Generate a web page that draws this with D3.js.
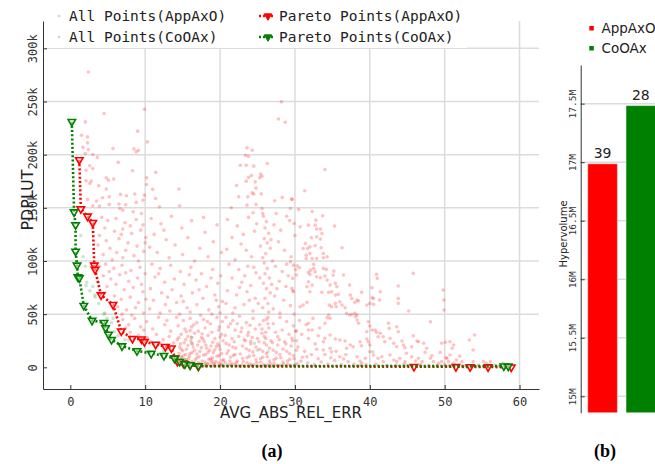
<!DOCTYPE html>
<html>
<head>
<meta charset="utf-8">
<script src="https://cdn.jsdelivr.net/npm/d3@7"></script>
<style>
  body { margin: 0; background: #fff; }
  svg { display: block; }
</style>
</head>
<body>
<svg></svg>
<script>
// AVG_ABS_REL_ERR vs PDPLUT (k)
const xTicks = [0, 10, 20, 30, 40, 50, 60];
const yTicks = [0, 50, 100, 150, 200, 250, 300];
const yTickLabels = ["0", "50k", "100k", "150k", "200k", "250k", "300k"];

const appAllPoints = [
  [2.4,277.8],[4.5,238.7],[2.0,230.8],[9.9,242.7],[9.0,222.1],[10.3,212.0],[1.5,218.3],[2.3,216.7],[2.3,211.1],
  [1.7,206.8],[2.4,204.9],[5.7,205.8],[8.5,205.4],[9.1,204.2],[8.8,202.6],[3.0,200.2],[2.0,201.1],[3.6,197.4],
  [6.4,192.7],[2.6,189.5],[3.0,187.0],[2.1,185.4],[8.3,184.8],[11.4,183.3],[4.8,178.2],[5.1,176.0],[5.8,177.0],
  [2.8,175.1],[2.1,175.4],[2.6,172.9],[10.2,178.2],[3.8,170.7],[4.8,167.6],[10.2,172.0],[11.0,167.3],[14.5,167.6],
  [6.7,162.6],[7.5,161.3],[8.6,162.9],[9.9,161.9],[4.3,159.4],[5.2,160.3],[2.3,157.9],[3.5,156.3],[5.2,153.2],
  [6.5,153.5],[7.4,152.8],[8.8,155.1],[9.7,157.2],[11.4,158.8],[3.0,151.9],[3.9,151.6],[11.9,150.9],[14.6,151.9],
  [6.6,149.4],[7.0,147.8],[8.4,146.2],[9.5,144.7],
  [28.2,249.6],[27.8,233.6],[28.7,230.5],[23.6,206.4],[24.3,204.2],[23.4,199.5],[23.8,198.3],[26.3,191.7],
  [22.7,190.1],[23.5,190.1],[24.5,189.2],[25.4,181.7],[25.6,179.8],[24.2,180.4],[23.8,178.6],[25.3,178.2],
  [22.2,171.0],[23.5,175.1],[24.7,174.4],[24.8,168.5],[24.3,164.1],[24.5,162.9],[25.5,163.1],[28.3,159.8],
  [29.6,158.2],[22.5,160.3],[23.7,160.3],[24.8,153.2],[23.6,152.5],[27.3,156.6],[21.5,150.0],[25.6,149.4],
  [27.5,144.7],[24.4,145.3],[25.7,144.7],
  [34.0,186.1],[31.3,166.0],[29.6,157.9],[29.4,149.4],[30.5,148.5],[32.3,146.6],
  [29.9,135.3],[32.8,138.4],[32.7,133.7],[32.9,130.0],[33.7,142.5],[33.4,130.0],[33.6,125.9],[35.3,132.8],
  [31.8,133.7],[30.7,132.1],[32.2,121.8],[32.9,122.7],[33.4,120.6],[31.4,116.5],[31.7,111.8],[32.0,113.3],
  [32.7,114.3],[31.1,111.8],[31.5,105.5],[33.5,112.4],[36.3,112.4],[32.0,107.1],[32.3,102.4],[31.5,102.4],
  [33.8,107.1],[34.3,103.9],[33.8,103.0],[32.9,102.4],[32.5,96.8],[29.8,96.1],[29.4,99.2],[30.3,95.5],
  [30.6,93.6],[32.1,91.4],[32.5,93.0],[32.7,89.8],[32.0,87.4],[31.8,89.3],[33.8,93.0],[34.2,92.1],
  [35.2,90.5],[35.1,86.7],[30.2,86.7],[32.9,85.1],[33.4,84.2],[34.0,85.8],[34.3,82.0],[36.5,86.7],
  [31.8,80.4],[32.3,77.3],[31.6,75.7],[32.0,71.0],[29.7,83.6],[29.6,74.2],[29.8,71.0],[35.4,78.9],
  [34.7,77.3],[35.6,75.7],[33.6,70.5],[34.5,70.5],[34.9,71.0],[35.4,67.9],[35.8,68.6],[37.3,77.3],
  [37.4,67.9],[37.6,64.8],[38.9,70.5],[38.3,63.2],[38.5,62.3],[38.0,61.1],[34.6,58.5],[34.9,57.0],
  [35.4,60.1],[35.5,57.0],[31.1,58.5],[30.7,57.0],[31.6,61.1],[36.0,61.7],[36.3,58.5],[36.7,56.0],
  [36.9,50.7],[37.3,49.2],[37.6,49.8],[38.0,50.7],[38.3,49.2],[38.1,47.6],[34.5,49.2],[34.7,46.1],
  [34.3,46.6],[39.6,58.5],[40.0,60.1],[40.5,59.2],[40.3,65.4],[40.5,64.8],[40.9,87.4],[41.0,83.6],
  [40.3,74.8],[41.4,71.0],[41.3,63.2],[43.8,76.4],[43.8,64.8],[43.8,60.1],[45.8,88.3],[45.2,52.9],
  [49.8,72.6],[49.9,63.2],[49.9,53.9],[48.1,42.9],[31.8,41.4],[31.8,35.1],[32.3,35.1],[30.2,34.1],
  [34.0,41.4],[38.3,44.5],[38.5,41.4],[39.8,42.9],[40.0,38.8],[40.3,35.1],[39.6,33.5],[40.7,35.1],
  [40.9,32.9],[41.4,32.0],[41.1,28.8],[42.5,41.4],[42.6,36.7],[43.6,38.2],[43.8,33.5],[33.1,29.7],
  [34.0,27.3],[33.8,24.1],[34.7,30.4],[35.4,26.6],[36.0,25.7],[36.7,24.7],[29.6,27.3],[39.6,26.6],
  [39.8,24.1],[40.0,21.0],[37.4,21.0],[37.8,19.4],[36.9,17.9],[38.7,24.1],[38.9,20.3],[41.8,28.8],
  [42.0,24.1],[42.7,27.3],[43.2,22.6],[43.6,19.4],[44.3,24.7],[44.5,21.0],[44.7,18.4],[45.8,29.7],
  [46.3,24.7],[45.6,19.4],[46.5,24.1],[47.2,22.6],[47.6,17.9],[47.4,14.1],[49.6,22.6],[50.1,23.5],
  [50.7,24.1],[51.2,21.0],[51.0,17.9],[53.3,25.7],[54.0,30.4],[53.8,16.3],[31.6,10.0],[33.8,16.3],
  [34.7,17.9],[34.9,14.7],[36.0,10.0],[36.5,7.8],[37.1,5.3],[38.3,10.0],[38.7,5.9],[38.9,3.8],
  [39.4,8.5],[40.0,14.7],[40.5,11.6],[41.1,8.5],[41.6,10.0],[41.8,5.3],[42.7,11.6],[43.2,6.9],
  [43.6,5.3],[44.0,8.5],[44.7,5.3],[44.9,13.2],[45.6,10.0],[46.1,5.9],[46.5,8.5],[47.0,5.3],
  [48.1,8.5],[48.5,5.3],[49.2,3.8],[49.6,5.3],[50.3,8.5],[50.5,5.3],[50.7,11.6],[51.2,3.8],
  [51.6,6.9],[52.3,5.3],[53.8,5.3],[55.2,5.3],[55.6,3.8],[56.1,5.3],[57.8,3.8],[58.3,2.8],
  [4.2,141],[5.0,138],[6.1,140],[7.3,136],[8.8,139],[9.7,134],[4.6,131],[5.9,128],[7.0,130],[8.2,126],
  [9.4,129],[10.1,122],[3.9,124],[4.8,119],[6.5,121],[7.7,117],[8.9,114],[5.3,112],[6.2,108],[7.4,110],
  [8.5,105],[9.8,109],[4.4,106],[5.6,101],[7.0,103],[9.1,100],[3.7,115],[6.8,125],[8.0,133],[10.0,117],
  [10.8,140],[12.1,135],[13.5,142],[14.9,131],[16.2,138],[18.0,127],[19.6,134],[11.2,125],[12.8,120],
  [14.0,115],[15.7,122],[17.3,112],[19.1,118],[20.2,108],[11.6,108],[13.2,103],[15.0,106],[16.6,100],
  [18.4,104],[10.6,113],[17.8,141],[12.5,129],
  [21.0,139],[22.3,133],[23.8,141],[24.6,128],[25.8,142],[26.2,137],[26.0,131],[26.5,126],[25.9,121],
  [26.3,117],[26.7,112],[26.1,107],[25.7,103],[27.2,134],[28.1,129],[29.3,138],[30.0,124],[21.6,122],
  [22.8,116],[23.5,110],[24.2,104],[20.9,111],[22.0,101],[27.8,118],[28.6,110],[29.5,104],[27.0,100],
  [24.9,135],[23.1,125],[28.9,142],[26.8,120],[25.4,114],
  [3.9,95],[4.7,97],[5.8,93],[6.9,96],[8.1,91],[9.3,94],[10.0,88],[4.4,86],[5.4,83],[6.6,87],[7.8,81],
  [9.0,84],[4.9,76],[6.1,78],[7.2,73],[8.4,75],[9.7,71],[4.6,70],[5.9,67],[6.8,64],[8.0,66],[9.1,61],
  [10.1,64],[6.3,57],[7.5,54],[8.7,56],[9.8,51],[6.9,50],[8.2,49],[3.7,80],[5.2,90],[7.4,89],[9.5,78],
  [10.9,97],[12.0,93],[13.4,96],[14.7,90],[16.1,94],[17.5,88],[19.0,92],[20.1,86],[11.3,85],[12.6,80],
  [13.9,83],[15.2,78],[16.8,82],[18.2,76],[19.7,79],[10.7,74],[12.2,70],[13.6,73],[14.8,67],[16.3,70],
  [17.7,65],[19.3,68],[20.3,62],[11.1,63],[12.7,59],[14.2,61],[15.6,56],[16.9,59],[18.5,54],[19.8,57],
  [10.6,55],[12.0,51],[13.3,53],[14.6,50],[16.0,52],[17.4,49],[18.9,50],[20.0,51],[11.8,88],[15.9,87],
  [18.8,84],[13.0,66],[17.2,73],[15.1,62],[19.5,63],
  [21.2,97],[22.5,92],[23.7,95],[24.8,89],[25.9,98],[26.3,93],[26.0,88],[26.6,84],[25.8,79],[26.2,74],
  [26.7,70],[26.0,65],[26.4,60],[25.7,56],[26.5,52],[27.4,95],[28.3,90],[29.1,86],[30.1,92],[21.6,84],
  [22.9,80],[24.1,77],[23.3,86],[27.9,81],[28.8,76],[29.7,72],[21.0,72],[22.2,68],[23.6,71],[24.7,65],
  [27.3,67],[28.5,63],[29.4,58],[20.8,60],[22.0,56],[23.2,59],[24.4,53],[27.1,55],[28.0,51],[29.9,50],
  [21.7,51],[25.1,60],[23.9,63],[25.3,84],[27.6,74],[22.6,75],[26.9,78],[24.5,94],[28.9,97],
  [7.0,45],[7.8,40],[8.6,46],[9.4,38],[10.2,43],[11.0,36],[11.8,47],[12.6,40],[13.4,34],[8.0,33],
  [9.1,30],[10.3,28],[11.5,31],[12.4,26],[13.2,29],[13.8,23],[10.8,24],[12.0,22],[13.0,21],[7.4,37],
  [9.8,35],[12.9,44],
  [14.2,47],[15.1,44],[16.0,46],[16.9,42],[17.8,45],[18.7,41],[19.6,47],[20.3,43],[14.4,39],[15.3,36],
  [16.2,38],[17.1,34],[18.0,37],[18.9,33],[19.8,35],[14.8,31],[15.7,29],[16.6,32],[17.5,28],[18.4,30],
  [19.3,27],[20.2,31],[14.3,26],[15.2,23],[16.1,25],[17.0,21],[17.9,24],[18.8,20],[19.7,22],[14.6,19],
  [15.5,17],[16.4,19],[17.3,15],[18.2,18],[19.1,14],[20.0,17],[14.5,13],[15.4,12],[16.3,14],[17.2,10],
  [18.1,12],[19.0,9],[19.9,11],[14.9,9],[15.8,8],[16.7,7],[17.6,6],[18.5,7.5],[19.4,5.5],[20.3,6.5],
  [15.6,5],[16.5,4],[17.4,3.2],[18.3,2.5],[19.2,3.5],[20.1,2],[16.9,12.5],[15.0,15.5],[18.6,16],[19.5,19.5],
  [17.7,26.5],[16.0,34.5],[14.7,22],[20.4,25],[17.0,1.8],[18.0,1.5],[19.0,1.2],[20.0,1.6],[15.9,10.5],
  [18.9,4.5],[16.2,28.5],[19.9,38],
  [20.8,47],[21.7,44],[22.6,48],[23.5,42],[24.4,46],[25.3,40],[26.2,45],[27.1,41],[28.0,47],[28.9,43],
  [29.8,39],[21.1,38],[22.0,35],[22.9,37],[23.8,33],[24.7,36],[25.6,32],[26.5,37],[27.4,33],[28.3,35],
  [29.2,31],[30.1,34],[20.7,30],[21.6,27],[22.5,29],[23.4,25],[24.3,28],[25.2,24],[26.1,27],[27.0,23],
  [27.9,26],[28.8,22],[29.7,25],[21.2,21],[22.1,18],[23.0,20],[23.9,16],[24.8,19],[25.7,15],[26.6,18],
  [27.5,14],[28.4,17],[29.3,13],[30.2,16],[20.9,13],[21.8,11],[22.7,12.5],[23.6,9],[24.5,11],[25.4,8],
  [26.3,10],[27.2,7],[28.1,9],[29.0,6],[29.9,8],[21.3,6],[22.2,4.5],[23.1,5.5],[24.0,3],[24.9,4.5],
  [25.8,2.5],[26.7,3.5],[27.6,2],[28.5,3],[29.4,2.2],[30.3,3.5],[21.5,2],[22.4,1.5],[23.3,1.2],[24.2,1.8],
  [25.1,1.3],[26.0,1.5],[26.9,1.2],[27.8,1.4],[26.4,41],[25.9,29],[26.2,21],[24.1,22],[22.3,41],[23.7,30],
  [27.7,29],[21.9,24],
  [30.6,44],[31.5,40],[32.4,46],[33.3,37],[30.9,31],[31.8,27],[32.7,22],[30.4,19],[31.3,15],[32.2,12],
  [33.1,8],[30.8,6],[31.7,4],[32.6,2.5],[33.5,5],[34.4,3],[35.3,6.5],[36.2,2.5],[34.0,12],[35.5,15],
  [30.2,25],[31.0,9.5],[32.9,17],[34.8,9],[36.8,12],[37.9,3],[38.6,1.5],[39.5,2.5],[40.8,3],[42.3,2],
  [43.5,1.8],[44.6,3],[46.8,2.5],[47.9,1.6],[49.0,1.8],[50.0,2.5],[50.6,1.5],[51.8,2],[52.7,1.4],[54.5,1.8],
  [56.7,2],[57.3,1.2],[48.3,11],[49.4,14],[50.2,9],[52.0,10.5],
  [14.5,28],[15.4,26],[16.3,22],[17.2,24.5],[18.1,21],[19.0,23.5],[19.9,20],[20.8,22.5],[21.7,19],
  [14.8,17],[15.7,20.5],[16.6,16],[17.5,18.5],[18.4,14],[19.3,16.5],[20.2,13],[21.1,15.5],[22.0,12],
  [15.1,11],[16.0,13],[16.9,9],[17.8,11.5],[18.7,8],[19.6,10.5],[20.5,7],[21.4,9.5],[22.3,6],
  [14.7,6.5],[15.3,7.5],[16.2,5.5],[17.1,4.5],[18.0,5],[18.9,6.5],[19.8,4],[20.7,4.5],[21.6,3.5],
  [16.6,2.8],[17.5,2.2],[18.4,3.8],[19.3,2.4],[20.2,3.2],[21.1,2.6],[22.0,2.9],[22.9,2.2],
  [23.2,26],[24.1,24.5],[25.0,27],[25.9,23],[26.8,25],[27.7,21],[28.6,24],[29.5,20],
  [23.5,17.5],[24.4,14.5],[25.3,17],[26.2,13],[27.1,16],[28.0,12],[28.9,15],[29.8,11],
  [23.0,8.5],[23.9,10.5],[24.8,7],[25.7,9.5],[26.6,6],[27.5,8.5],[28.4,5],[29.3,7.5],
  [23.6,4.2],[24.5,2.6],[25.4,4.8],[26.3,2.1],[27.2,3.6],[28.1,1.9],[29.0,2.8],[29.9,1.6],
  [26.1,33],[25.6,36],[26.4,47],[25.8,44],[16.5,40],[18.3,43],[17.6,31.5],[15.5,33.5],[21.4,41],
  [22.8,33.5],[24.0,39.5],[20.0,28.5]
];

const coAllPoints = [
  [1.4,124],[2.0,95],[2.2,80],[1.5,86],[1.4,84],[2.1,77],[3.0,76],[3.3,68],[3.3,66],[4.5,50],[4.6,51],
  [4.9,46],[5.7,46],[5.5,42],[5.1,38],[5.9,33.5],[7.3,26],[7.8,25.7],[8.3,24.5],[9.7,24],[16.2,27.8],
  [16.2,22.6],[24.6,22.6],[26.4,14.7],[25.0,16],[40.4,14.7],[3.8,60],[2.6,72],[6.4,30],[1.7,104],
  [12.5,15],[14.8,10],[15.5,7],[18.0,3],[20.5,2],[30.0,2.5],[45.0,2]
];

const appPareto = [
  [1.2,195],[1.4,149],[2.3,142],[3.0,136],[3.2,96],[3.3,92],[4.1,68],[5.7,59],[6.8,34],[8.3,27],
  [9.5,26.5],[9.9,24],[11.4,21.5],[12.7,19.4],[13.5,18],[14.0,8.5],[14.3,5.3],[15.1,3.8],[16.0,2.2],
  [17.1,1.0],[45.9,0.6],[51.5,0.5],[53.4,0.4],[55.8,0.3],[58.9,0.1]
];

const coPareto = [
  [0.2,231],[0.5,146],[0.7,134],[0.7,109],[0.9,96],[1.0,85],[1.2,84],[1.8,58],[2.9,44],[4.5,42],
  [4.7,37],[5.1,31],[5.5,26],[6.9,20],[8.9,15.5],[10.8,13],[12.5,11],[13.9,8.5],[14.6,5.3],[15.3,3.1],
  [16.0,2.2],[17.1,1.3],[57.9,1.1],[58.5,1.0]
];

// Hypervolume panel
const hvMethods = ["AppAxO", "CoOAx"];
const hvValues = [16.986, 17.483];   // millions
const hvCounts = [39, 28];
const hvTicks = [15, 15.5, 16, 16.5, 17, 17.5];

const width = 655, height = 464;
const red = "#ff0000", green = "#008000";
const mono = "'DejaVu Sans Mono', monospace";
const sans = "'DejaVu Sans', sans-serif";

const svg = d3.select("svg")
  .attr("width", width)
  .attr("height", height);

const x = d3.scaleLinear().domain([-3.65, 62.6]).range([43, 539]);
const y = d3.scaleLinear().domain([-20.4, 325.7]).range([389, 21]);

// grid
svg.append("g").selectAll("line")
  .data(xTicks.filter(d => d !== 0))
  .enter().append("line")
  .attr("x1", d => x(d)).attr("x2", d => x(d))
  .attr("y1", y.range()[1]).attr("y2", y.range()[0])
  .attr("stroke", "#dcdcdc").attr("stroke-width", 1.5);

svg.append("g").selectAll("line")
  .data(yTicks.filter(d => d !== 0))
  .enter().append("line")
  .attr("x1", x.range()[0]).attr("x2", x.range()[1])
  .attr("y1", d => y(d)).attr("y2", d => y(d))
  .attr("stroke", "#dcdcdc").attr("stroke-width", 1.5);

const plot = svg.append("g");

// all points
plot.selectAll(".app")
  .data(appAllPoints)
  .enter().append("circle")
  .attr("cx", d => x(d[0])).attr("cy", d => y(d[1]))
  .attr("r", 1.8)
  .attr("fill", red).attr("fill-opacity", 0.24);

plot.selectAll(".co")
  .data(coAllPoints)
  .enter().append("circle")
  .attr("cx", d => x(d[0])).attr("cy", d => y(d[1]))
  .attr("r", 1.8)
  .attr("fill", green).attr("fill-opacity", 0.2);

// pareto fronts
const line = d3.line().x(d => x(d[0])).y(d => y(d[1]));
const tri = d3.symbol().type(d3.symbolTriangle).size(24);

function front(data, color) {
  plot.append("path")
    .datum(data)
    .attr("d", line)
    .attr("fill", "none")
    .attr("stroke", color)
    .attr("stroke-width", 2.6)
    .attr("stroke-dasharray", "2,2.2");
  plot.selectAll(null)
    .data(data)
    .enter().append("path")
    .attr("d", tri)
    .attr("transform", d => `translate(${x(d[0])},${y(d[1])}) rotate(180)`)
    .attr("fill", "#fff").attr("fill-opacity", 0.5)
    .attr("stroke", color).attr("stroke-width", 1.6);
}
front(appPareto, red);
front(coPareto, green);

// legend box
svg.append("rect")
  .attr("x", 44).attr("y", 0).attr("width", 423).attr("height", 48)
  .attr("fill", "#fff");

const legend = svg.append("g").style("font-family", mono).style("font-size", "14.5px").attr("fill", "#222");
[["All Points(AppAxO)", red, 21], ["All Points(CoOAx)", green, 42]].forEach(([t, c, ly]) => {
  legend.append("circle").attr("cx", 59).attr("cy", ly - 5).attr("r", 1.3).attr("fill", c).attr("fill-opacity", 0.25);
  legend.append("text").attr("x", 69).attr("y", ly).text(t);
});
[["Pareto Points(AppAxO)", red, 21], ["Pareto Points(CoOAx)", green, 42]].forEach(([t, c, ly]) => {
  legend.append("line").attr("x1", 259).attr("x2", 275).attr("y1", ly - 5).attr("y2", ly - 5)
    .attr("stroke", c).attr("stroke-width", 2.5).attr("stroke-dasharray", "2,2");
  legend.append("path").attr("d", tri).attr("transform", `translate(268,${ly - 5}) rotate(180)`)
    .attr("fill", c).attr("stroke", c).attr("stroke-width", 1);
  legend.append("text").attr("x", 279).attr("y", ly).text(t);
});

// Add X axis
const xAxis = svg.append("g")
  .attr("transform", `translate(0,389)`)
  .call(d3.axisBottom(x).tickValues(xTicks).tickSize(-4).tickSizeOuter(0).tickPadding(8));
xAxis.selectAll("text").style("font-family", mono).style("font-size", "12px").attr("fill", "#333");

// Add Y axis
const yAxis = svg.append("g")
  .attr("transform", `translate(43,0)`)
  .call(d3.axisLeft(y).tickValues(yTicks).tickFormat((d, i) => yTickLabels[i]).tickSize(-4).tickSizeOuter(0));
yAxis.selectAll("text")
  .attr("x", null).attr("dy", null)
  .attr("transform", "translate(-10,0) rotate(-90)")
  .attr("dominant-baseline", "central")
  .style("text-anchor", "middle")
  .style("font-family", mono).style("font-size", "12px").attr("fill", "#333");
svg.selectAll(".domain, .tick line").attr("stroke", "#333");

// axis labels
svg.append("text")
  .attr("transform", "translate(27,200) rotate(-90)")
  .attr("dominant-baseline", "central")
  .style("text-anchor", "middle")
  .style("font-family", sans).style("font-size", "16px").attr("fill", "#222")
  .text("PDPLUT");

svg.append("text")
  .attr("x", 291).attr("y", 418)
  .style("text-anchor", "middle")
  .style("font-family", sans).style("font-size", "15px").attr("fill", "#222")
  .text("AVG_ABS_REL_ERR");

// ---- Hypervolume bars
const hx = d3.scaleBand().domain(hvMethods).range([583.9, 659.5]).paddingInner(0.227).paddingOuter(0.1);
const hy = d3.scaleLinear().domain([14.86, 17.83]).range([412.7, 65]);

svg.append("g").selectAll("line")
  .data(hvTicks)
  .enter().append("line")
  .attr("x1", 581).attr("x2", width)
  .attr("y1", d => hy(d)).attr("y2", d => hy(d))
  .attr("stroke", "#dcdcdc").attr("stroke-width", 1.5);

svg.selectAll(".bar")
  .data(hvMethods)
  .enter().append("rect")
  .attr("class", "bar")
  .attr("x", d => hx(d))
  .attr("y", (d, i) => hy(hvValues[i]))
  .attr("width", hx.bandwidth())
  .attr("height", (d, i) => hy.range()[0] - hy(hvValues[i]))
  .attr("fill", (d, i) => i ? green : red)
  .attr("stroke", "#fff").attr("stroke-opacity", 0.4);

svg.selectAll(".count")
  .data(hvMethods)
  .enter().append("text")
  .attr("x", d => hx(d) + hx.bandwidth() / 2)
  .attr("y", (d, i) => hy(hvValues[i]) - 6)
  .style("text-anchor", "middle")
  .style("font-family", sans).style("font-size", "14px").attr("fill", "#222")
  .text((d, i) => hvCounts[i]);

const hAxis = svg.append("g")
  .attr("transform", "translate(580.7,0)")
  .call(d3.axisLeft(hy).tickValues(hvTicks).tickFormat(d => d + "M").tickSize(-4).tickSizeOuter(0));
hAxis.selectAll("text")
  .attr("x", null).attr("dy", null)
  .attr("transform", "translate(-8,0) rotate(-90)")
  .attr("dominant-baseline", "central")
  .style("text-anchor", "middle")
  .style("font-family", mono).style("font-size", "9.5px").attr("fill", "#333");
hAxis.selectAll(".domain, .tick line").attr("stroke", "#333");

svg.append("text")
  .attr("transform", "translate(563,234) rotate(-90)")
  .attr("dominant-baseline", "central")
  .style("text-anchor", "middle")
  .style("font-family", sans).style("font-size", "10px").attr("fill", "#222")
  .text("Hypervolume");

// hv legend
hvMethods.forEach((m, i) => {
  svg.append("rect").attr("x", 589.3).attr("y", 26 + i * 20).attr("width", 4.5).attr("height", 4.5)
    .attr("fill", i ? green : red);
  svg.append("text").attr("x", 601.5).attr("y", 33 + i * 20)
    .style("font-family", sans).style("font-size", "13.5px").attr("fill", "#222")
    .text(m);
});

// captions
svg.append("text").attr("x", 272).attr("y", 457).style("text-anchor", "middle")
  .style("font-family", "'Liberation Serif', serif").style("font-weight", "bold").style("font-size", "18px")
  .text("(a)");
svg.append("text").attr("x", 605).attr("y", 457).style("text-anchor", "middle")
  .style("font-family", "'Liberation Serif', serif").style("font-weight", "bold").style("font-size", "18px")
  .text("(b)");
</script>
</body>
</html>
